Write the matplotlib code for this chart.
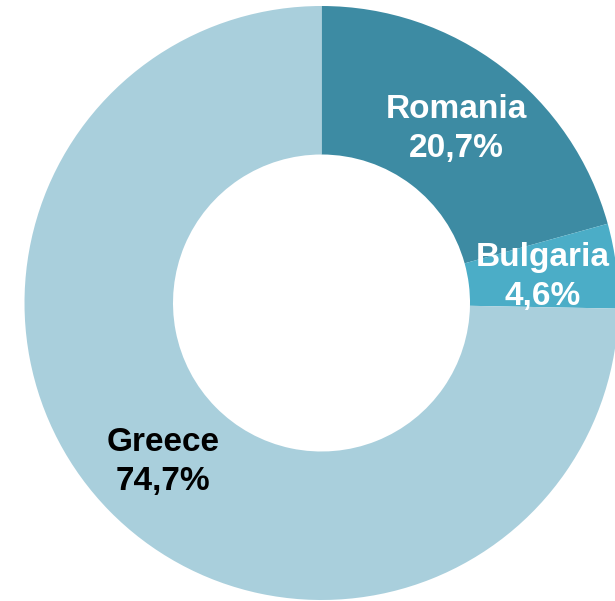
import matplotlib
matplotlib.use('Agg')
import matplotlib.pyplot as plt

paises = ['Romania', 'Bulgaria', 'Greece']
porcentajes = [20.7, 4.6, 74.7]
colores = ['#3d8ba3', '#4badc7', '#a9cfdc']
color_texto = ['white', 'white', 'black']

# posiciones de las etiquetas (en pixeles de la figura)
pos_etiquetas = [(456, 129), (543, 277), (163, 462)]

plt.rcParams['font.family'] = ['Liberation Sans', 'DejaVu Sans']

fig = plt.figure(figsize=(6.15, 6.01), dpi=100)
ax = fig.add_axes([0, 0, 1, 1])

radio = 297
centro = (321.5, 601 - 303)
ax.pie(porcentajes, colors=colores, startangle=90, counterclock=False,
       radius=radio, center=centro, frame=True,
       wedgeprops=dict(width=radio * 0.5, edgecolor='none'))
ax.set_xlim(0, 615)
ax.set_ylim(0, 601)
ax.set_aspect('equal')
ax.axis('off')

for p, v, (x, y), c in zip(paises, porcentajes, pos_etiquetas, color_texto):
    txt = p + '\n' + ('%.1f' % v).replace('.', ',') + '%'
    ax.text(x, 601 - y, txt, ha='center', va='center', fontsize=24,
            fontweight='bold', color=c, linespacing=1.32)

fig.savefig('out.png', dpi=100)
